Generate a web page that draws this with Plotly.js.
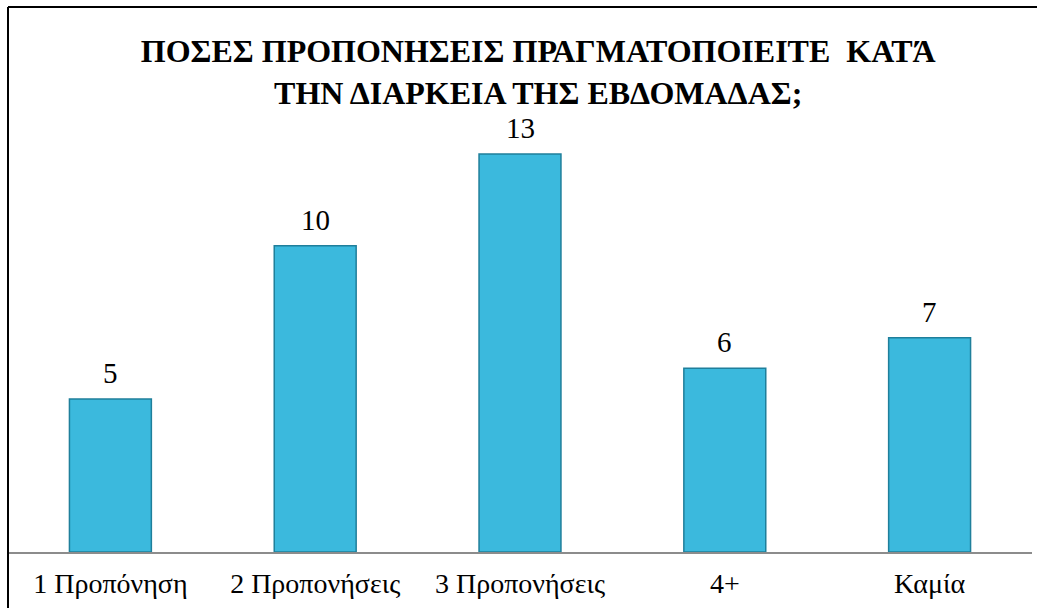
<!DOCTYPE html>
<html>
<head>
<meta charset="utf-8">
<script src="https://cdn.plot.ly/plotly-3.0.1.min.js"></script>
<style>html,body{margin:0;padding:0;background:#fff;}#chart{width:1037px;height:608px;}</style>
</head>
<body>
<div id="chart"></div>
<script>
var categories = ["1 Προπόνηση", "2 Προπονήσεις", "3 Προπονήσεις", "4+", "Καμία"];
var values = [5, 10, 13, 6, 7];
var titleText = "ΠΟΣΕΣ ΠΡΟΠΟΝΗΣΕΙΣ ΠΡΑΓΜΑΤΟΠΟΙΕΙΤΕ \u00a0ΚΑΤΆ<br>ΤΗΝ ΔΙΑΡΚΕΙΑ ΤΗΣ ΕΒΔΟΜΑΔΑΣ;";

var serif = "'Times New Roman', 'Liberation Serif', 'DejaVu Serif', serif";

var trace = {
  type: "bar",
  x: categories,
  y: values,
  marker: {color: "#3BB9DD", line: {color: "#1F7F9B", width: 1.5}},
  hoverinfo: "x+y"
};

var annotations = categories.map(function (c, i) {
  return {
    x: c, y: values[i], xref: "x", yref: "y",
    text: String(values[i]), showarrow: false,
    yanchor: "bottom", yshift: 8,
    font: {family: serif, size: 29, color: "#000"}
  };
});

var layout = {
  width: 1037, height: 608,
  margin: {l: 8, r: 5, t: 108, b: 56},
  paper_bgcolor: "#fff", plot_bgcolor: "#fff",
  showlegend: false,
  bargap: 0.6,
  title: {
    text: titleText,
    font: {family: serif, size: 32, color: "#000", weight: "bold"},
    x: 0.519, xanchor: "center", xref: "container",
    y: 0.898, yanchor: "top", yref: "container"
  },
  xaxis: {
    showline: true, linecolor: "#8c8c8c", linewidth: 2,
    showgrid: false, zeroline: false, ticks: "",
    tickfont: {family: serif, size: 28, color: "#000"},
    ticklabelstandoff: 5
  },
  yaxis: {
    range: [0, 14.5], visible: false, showgrid: false, zeroline: false, fixedrange: true
  },
  annotations: annotations,
  shapes: [
    {type: "line", xref: "paper", yref: "paper", x0: 0, x1: 0, y0: -0.2, y1: 1.2275,
     line: {color: "#000", width: 2}},
    {type: "line", xref: "paper", yref: "paper", x0: 0, x1: 1.01, y0: 1.2275, y1: 1.2275,
     line: {color: "#000", width: 2}}
  ]
};

Plotly.newPlot("chart", [trace], layout, {displayModeBar: false, staticPlot: true});
</script>
</body>
</html>
